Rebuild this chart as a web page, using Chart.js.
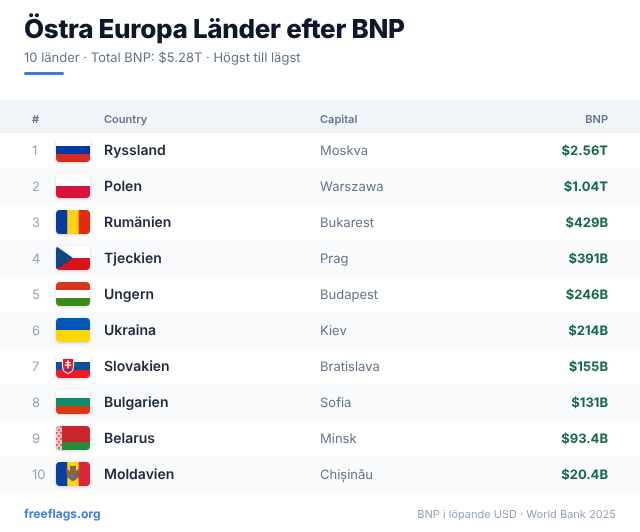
<!DOCTYPE html>
<html lang="sv">
<head>
<meta charset="UTF-8">
<title>Östra Europa Länder efter BNP</title>
<script src="https://cdn.jsdelivr.net/npm/chart.js@4"></script>
<style>
  html, body { margin: 0; padding: 0; background: #fff; }
  canvas { display: block; }
</style>
</head>
<body>
<canvas id="chart" width="640" height="532"></canvas>
<script>
const ranks = ['1', '2', '3', '4', '5', '6', '7', '8', '9', '10']
const countries = ['Ryssland', 'Polen', 'Rumänien', 'Tjeckien', 'Ungern', 'Ukraina', 'Slovakien', 'Bulgarien', 'Belarus', 'Moldavien']
const capitals = ['Moskva', 'Warszawa', 'Bukarest', 'Prag', 'Budapest', 'Kiev', 'Bratislava', 'Sofia', 'Minsk', 'Chișinău']
const bnp = ['$2.56T', '$1.04T', '$429B', '$391B', '$246B', '$214B', '$155B', '$131B', '$93.4B', '$20.4B']
const headers = ['#', 'Country', 'Capital', 'BNP']
const titleText = 'Östra Europa Länder efter BNP'
const subtitleText = '10 länder · Total BNP: $5.28T · Högst till lägst'
const footerLeft = 'freeflags.org'
const footerRight = 'BNP i löpande USD · World Bank 2025'

const FONT = 'Inter, "Noto Sans", sans-serif'

function text(ctx, str, x, y, font, color, align, spacing) {
  ctx.font = font + ' ' + FONT
  ctx.fillStyle = color
  ctx.textAlign = align || 'left'
  ctx.textBaseline = 'alphabetic'
  ctx.textRendering = 'geometricPrecision'
  ctx.letterSpacing = spacing || '0px'
  ctx.fillText(str, x, y)
  ctx.letterSpacing = '0px'
}

function hStripes(c, colors, x, y, w, h) {
  colors.forEach((col, i) => {
    c.fillStyle = col
    c.fillRect(x, y + h * i / colors.length, w, h / colors.length + 0.5)
  })
}
function vStripes(c, colors, x, y, w, h) {
  colors.forEach((col, i) => {
    c.fillStyle = col
    c.fillRect(x + w * i / colors.length, y, w / colors.length + 0.5, h)
  })
}

// flag painters, keyed by country
const flags = {
  Ryssland: (c, x, y, w, h) => hStripes(c, ['#ffffff', '#0039a6', '#d52b1e'], x, y, w, h),
  Polen: (c, x, y, w, h) => hStripes(c, ['#ffffff', '#dc143c'], x, y, w, h),
  'Rumänien': (c, x, y, w, h) => vStripes(c, ['#0a3a9e', '#fcd116', '#e02a12'], x, y, w, h),
  Tjeckien: (c, x, y, w, h) => {
    hStripes(c, ['#ffffff', '#d7141a'], x, y, w, h)
    c.fillStyle = '#11457e'
    c.beginPath()
    c.moveTo(x, y)
    c.lineTo(x + w / 2, y + h / 2)
    c.lineTo(x, y + h)
    c.closePath()
    c.fill()
  },
  Ungern: (c, x, y, w, h) => hStripes(c, ['#d6381c', '#ffffff', '#3d8a1c'], x, y, w, h),
  Ukraina: (c, x, y, w, h) => hStripes(c, ['#0057b7', '#ffd700'], x, y, w, h),
  Slovakien: (c, x, y, w, h) => {
    hStripes(c, ['#ffffff', '#0b4ea2', '#ee1c25'], x, y, w, h)
    c.fillStyle = '#ffffff'
    c.beginPath()
    c.moveTo(x + 6, y + 4)
    c.lineTo(x + 18, y + 4)
    c.lineTo(x + 18, y + 13)
    c.quadraticCurveTo(x + 18, y + 18, x + 12, y + 20)
    c.quadraticCurveTo(x + 6, y + 18, x + 6, y + 13)
    c.closePath()
    c.fill()
    c.fillStyle = '#ee1c25'
    c.beginPath()
    c.moveTo(x + 7, y + 5)
    c.lineTo(x + 17, y + 5)
    c.lineTo(x + 17, y + 13)
    c.quadraticCurveTo(x + 17, y + 17, x + 12, y + 19)
    c.quadraticCurveTo(x + 7, y + 17, x + 7, y + 13)
    c.closePath()
    c.fill()
    c.fillStyle = '#ffffff'
    c.fillRect(x + 11.3, y + 6.5, 1.4, 8)
    c.fillRect(x + 9.5, y + 8, 5, 1.2)
    c.fillRect(x + 8.8, y + 10.5, 6.4, 1.2)
    c.fillStyle = '#0b4ea2'
    c.fillRect(x + 8.5, y + 15, 7, 1.6)
  },
  Bulgarien: (c, x, y, w, h) => hStripes(c, ['#ffffff', '#0f8a66', '#d63a14'], x, y, w, h),
  Belarus: (c, x, y, w, h) => {
    c.fillStyle = '#c8252d'
    c.fillRect(x, y, w, h * 2 / 3)
    c.fillStyle = '#2a8a3a'
    c.fillRect(x, y + h * 2 / 3, w, h / 3)
    c.fillStyle = '#f3c4c4'
    c.fillRect(x, y, 6, h)
    c.fillStyle = '#d04a50'
    for (let row = 0; row < 8; row++) {
      for (let col = 0; col < 3; col++) {
        if ((row + col) % 2 === 0) c.fillRect(x + col * 2, y + row * 3, 1.6, 1.8)
      }
    }
  },
  Moldavien: (c, x, y, w, h) => {
    vStripes(c, ['#0a3f9e', '#fcd116', '#d9263a'], x, y, w, h)
    const mx = x + w / 2
    c.fillStyle = '#7d6a45'
    c.beginPath()
    c.moveTo(mx - 7, y + 6)
    c.lineTo(mx - 3, y + 9)
    c.lineTo(mx - 3, y + 4)
    c.lineTo(mx + 3, y + 4)
    c.lineTo(mx + 3, y + 9)
    c.lineTo(mx + 7, y + 6)
    c.lineTo(mx + 6, y + 15)
    c.lineTo(mx + 1, y + 19)
    c.lineTo(mx - 1, y + 19)
    c.lineTo(mx - 6, y + 15)
    c.closePath()
    c.fill()
    c.fillStyle = '#b5503c'
    c.fillRect(mx - 2.5, y + 10, 5, 3)
    c.fillStyle = '#4a78a8'
    c.fillRect(mx - 2.5, y + 13, 5, 3)
  }
}

const tablePlugin = {
  id: 'table',
  // header strip sits outside the chart area
  beforeDatasetsDraw(chart) {
    const c = chart.ctx
    c.save()
    c.fillStyle = '#f1f5f9'
    c.fillRect(0, 100, chart.width, chart.chartArea.top - 100)
    c.restore()
  },
  afterDatasetsDraw(chart) {
    const c = chart.ctx
    const xs = chart.scales.x
    const ys = chart.scales.y
    c.save()
    c.fillStyle = '#e9eef4'
    c.fillRect(0, chart.chartArea.top, chart.width, 1)
    text(c, titleText, xs.getPixelForValue(24), 38, '800 26px', '#0f172a', 'left', '-0.3px')
    text(c, subtitleText, xs.getPixelForValue(24), 62, '400 13px', '#64748b')
    c.fillStyle = '#3b7ddd'
    c.beginPath()
    c.roundRect(xs.getPixelForValue(24), 72, 40, 3, 1.5)
    c.fill()

    text(c, headers[0], xs.getPixelForValue(32), 123, '600 11px', '#64748b')
    text(c, headers[1], xs.getPixelForValue(104), 123, '600 11px', '#64748b')
    text(c, headers[2], xs.getPixelForValue(320), 123, '600 11px', '#64748b')
    text(c, headers[3], xs.getPixelForValue(608), 123, '600 11px', '#64748b', 'right')

    countries.forEach((name, i) => {
      const y = ys.getPixelForValue(i)
      text(c, ranks[i], xs.getPixelForValue(32), y + 5, '400 13px', '#94a3b8')
      const fx = xs.getPixelForValue(56)
      c.save()
      c.shadowColor = 'rgba(0,0,0,0.18)'
      c.shadowBlur = 3
      c.shadowOffsetY = 1
      c.fillStyle = '#ffffff'
      c.beginPath()
      c.roundRect(fx, y - 12, 34, 24, 4)
      c.fill()
      c.restore()
      c.save()
      c.beginPath()
      c.roundRect(fx, y - 12, 34, 24, 4)
      c.clip()
      flags[name](c, fx, y - 12, 34, 24)
      c.restore()
      text(c, name, xs.getPixelForValue(104), y + 5, '600 14px', '#1e293b')
      text(c, capitals[i], xs.getPixelForValue(320), y + 5, '400 13px', '#64748b')
      text(c, bnp[i], xs.getPixelForValue(608), y + 5, '700 13px', '#166550', 'right')
    })

    text(c, footerLeft, xs.getPixelForValue(24), 518, '700 12px', '#4281dd')
    text(c, footerRight, xs.getPixelForValue(616), 518, '400 11px', '#94a3b8', 'right')
    c.restore()
  }
}

new Chart(document.getElementById('chart'), {
  type: 'bar',
  data: {
    labels: countries,
    datasets: [{
      // alternating row bands, every other row stays white
      data: countries.map(() => [0, 640]),
      backgroundColor: countries.map((_, i) => i % 2 ? '#f8fafc' : '#ffffff'),
      barPercentage: 1,
      categoryPercentage: 1
    }]
  },
  options: {
    indexAxis: 'y',
    responsive: false,
    animation: false,
    layout: { padding: { top: 132, bottom: 40, left: 0, right: 0 } },
    plugins: { legend: { display: false }, tooltip: { enabled: false }, title: { display: false } },
    scales: {
      x: { type: 'linear', min: 0, max: 640, display: false },
      y: { type: 'category', display: false, offset: true }
    }
  },
  plugins: [tablePlugin]
})
</script>
</body>
</html>
